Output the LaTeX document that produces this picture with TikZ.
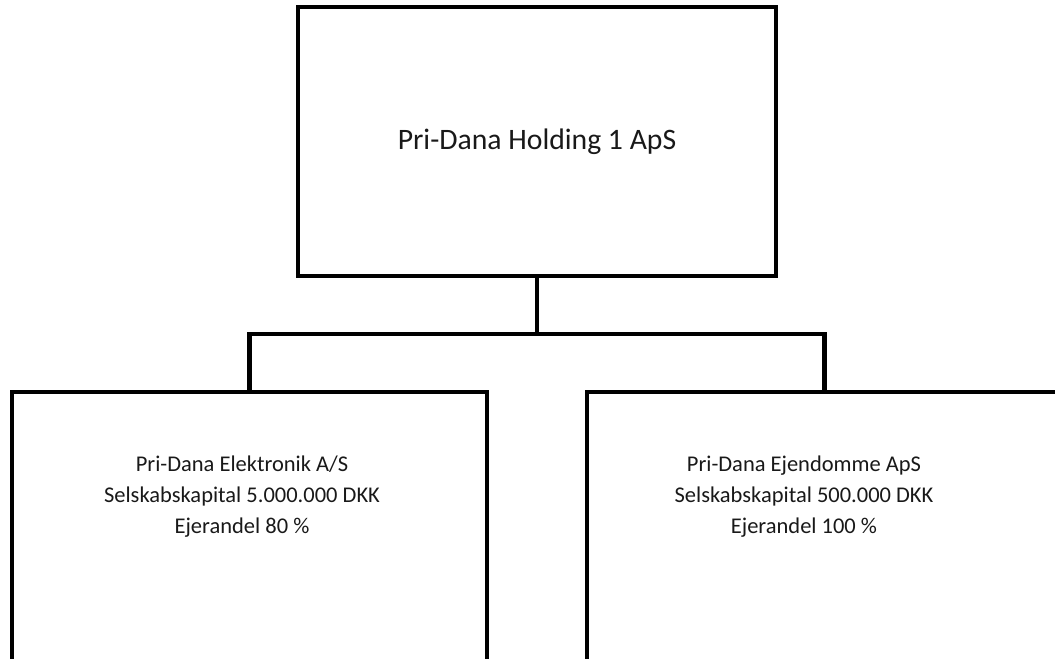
\documentclass[tikz,border=0pt]{standalone}
\usepackage{fontspec}
\setmainfont{Carlito}
\usepackage{tikz}
\usetikzlibrary{positioning, calc}
\tikzset{
    company/.style={rectangle, draw=black, line width=0.09cm, inner sep=0pt, minimum width=9.5cm},
    holding/.style={company, minimum width=9.56cm, minimum height=5.38cm, font=\fontsize{16.9}{20}\selectfont, text=black!90},
    unittext/.style={align=center, inner sep=0pt, font=\fontsize{12.8}{17.6}\selectfont, text=black!90},
    link/.style={line width=0.09cm, black}
}
\begin{document}
\begin{tikzpicture}[x=0.02cm, y=0.02cm]
    \useasboundingbox (0,0) rectangle (1055,659);
    \clip (0,0) rectangle (1055,659);

    % Holding
    \node[holding] (holding) at (537, 517.5) {Pri-Dana Holding 1 ApS};

    % Subsidiaries
    \node[company, minimum height=6cm] (elec) at (249.5, 117) {};
    \node[company, minimum height=6cm] (prop) at (824.5, 117) {};
    \node[unittext] (elec-text) at (242, 162) {Pri-Dana Elektronik A/S\\Selskabskapital 5.000.000 DKK\\Ejerandel 80 \%};
    \node[unittext] (prop-text) at (804, 162) {Pri-Dana Ejendomme ApS\\Selskabskapital 500.000 DKK\\Ejerandel 100 \%};

    % Lines
    \coordinate (split) at (537, 325);
    \draw[link] (holding.south) -- (split);
    \draw[link] (split) -| (elec.north);
    \draw[link] (split) -| (prop.north);
\end{tikzpicture}
\end{document}
